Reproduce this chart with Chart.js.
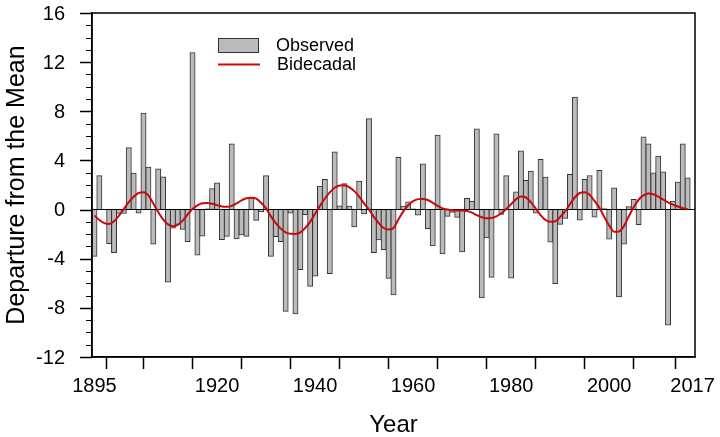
<!DOCTYPE html>
<html>
<head>
<meta charset="utf-8">
<script src="https://cdn.jsdelivr.net/npm/chart.js@4.4.0/dist/chart.umd.min.js"></script>
<style>
  html, body { margin: 0; padding: 0; background: #ffffff; }
  #wrap { width: 720px; height: 437px; }
</style>
</head>
<body>
<div id="wrap"><canvas id="chart" width="720" height="437"></canvas></div>
<script>
// Años (eje x)
const years = [
  1895, 1896, 1897, 1898, 1899, 1900, 1901, 1902, 1903, 1904,
  1905, 1906, 1907, 1908, 1909, 1910, 1911, 1912, 1913, 1914,
  1915, 1916, 1917, 1918, 1919, 1920, 1921, 1922, 1923, 1924,
  1925, 1926, 1927, 1928, 1929, 1930, 1931, 1932, 1933, 1934,
  1935, 1936, 1937, 1938, 1939, 1940, 1941, 1942, 1943, 1944,
  1945, 1946, 1947, 1948, 1949, 1950, 1951, 1952, 1953, 1954,
  1955, 1956, 1957, 1958, 1959, 1960, 1961, 1962, 1963, 1964,
  1965, 1966, 1967, 1968, 1969, 1970, 1971, 1972, 1973, 1974,
  1975, 1976, 1977, 1978, 1979, 1980, 1981, 1982, 1983, 1984,
  1985, 1986, 1987, 1988, 1989, 1990, 1991, 1992, 1993, 1994,
  1995, 1996, 1997, 1998, 1999, 2000, 2001, 2002, 2003, 2004,
  2005, 2006, 2007, 2008, 2009, 2010, 2011, 2012, 2013, 2014,
  2015, 2016
];

// Serie observada (barras)
const observed = [
  -3.8, 2.76, 0.0, -2.76, -3.5, -0.3, -0.3, 5.04, 2.95, -0.27,
  7.83, 3.44, -2.8, 3.3, 2.66, -5.9, -1.5, -1.2, -1.6, -2.6,
  12.76, -3.7, -2.15, 0.05, 1.7, 2.17, -2.44, -2.17, 5.34, -2.38,
  -2.05, -2.17, 0.95, -0.87, -0.15, 2.76, -3.8, -2.2, -2.6, -8.27,
  -0.27, -8.48, -4.88, -0.4, -6.25, -5.4, 1.9, 2.44, -5.2, 4.68,
  0.3, 2.1, 0.27, -1.4, 2.3, -0.35, 7.4, -3.5, -2.45, -3.25,
  -5.6, -6.93, 4.23, 0.27, 0.62, 0.05, -0.45, 3.7, -1.55, -2.95,
  6.05, -3.6, -0.54, -0.22, -0.62, -3.44, 0.9, 0.66, 6.56, -7.18,
  -2.3, -5.5, 6.15, -0.39, 2.76, -5.56, 1.44, 4.77, 2.37, 3.12,
  -0.27, 4.07, 2.63, -2.63, -6.02, -1.2, -0.7, 2.85, 9.15, -0.84,
  2.44, 2.76, -0.6, 3.18, 0.07, -2.39, 1.75, -7.1, -2.8, 0.22,
  0.81, -1.22, 5.9, 5.34, 2.98, 4.34, 3.05, -9.4, 0.68, 2.23,
  5.34, 2.57
];

// Curva bidecadal (línea roja)
const bidecadal = [
  -0.49, -0.85, -1.1, -1.17, -0.95, -0.5, 0.05, 0.6, 1.05, 1.35,
  1.41, 1.15, 0.5, -0.2, -0.8, -1.2, -1.35, -1.25, -0.9, -0.4,
  0.05, 0.35, 0.52, 0.54, 0.48, 0.36, 0.25, 0.22, 0.3, 0.5,
  0.75, 0.92, 0.97, 0.9, 0.55, 0.1, -0.55, -1.1, -1.55, -1.85,
  -1.97, -1.98, -1.85, -1.5, -1.0, -0.35, 0.3, 0.9, 1.4, 1.78,
  1.96, 1.98, 1.8, 1.5, 1.05, 0.5, 0.0, -0.6, -1.1, -1.5,
  -1.63, -1.5, -0.8, -0.15, 0.35, 0.68, 0.85, 0.87, 0.78, 0.55,
  0.3, 0.1, 0.0, -0.05, -0.08, -0.08, -0.12, -0.25, -0.45, -0.62,
  -0.7, -0.68, -0.55, -0.3, 0.05, 0.45, 0.85, 1.07, 1.0, 0.6,
  0.1, -0.45, -0.85, -1.0, -0.95, -0.6, -0.15, 0.45, 1.0, 1.35,
  1.41, 1.2, 0.7, 0.15, -0.6, -1.3, -1.8, -1.78, -1.35, -0.55,
  0.2, 0.8, 1.15, 1.3, 1.25, 1.05, 0.82, 0.58, 0.4, 0.25,
  0.12, 0.05
];

// Marcas del eje x y cuáles llevan etiqueta
const xTickYears = [1895, 1900, 1910, 1920, 1930, 1940, 1950, 1960, 1970, 1980, 1990, 2000, 2010, 2017];
const xLabelYears = [1895, 1920, 1940, 1960, 1980, 2000, 2017];
const yMajorTicks = [-12, -8, -4, 0, 4, 8, 12, 16];
const yMinorTicks = [-11, -10, -9, -7, -6, -5, -3, -2, -1, 1, 2, 3, 5, 6, 7, 9, 10, 11, 13, 14, 15];

const FONT = '"Liberation Sans", Arial, Helvetica, sans-serif';

// Marco, marcas del eje y y sus etiquetas
const framePlugin = {
  id: 'frame',
  afterDraw(chart) {
    const { ctx, chartArea } = chart;
    const yScale = chart.scales.y;
    ctx.save();
    ctx.strokeStyle = '#000';
    ctx.lineWidth = 1.5;
    ctx.strokeRect(chartArea.left, chartArea.top, chartArea.right - chartArea.left, chartArea.bottom - chartArea.top);

    // marcas menores
    ctx.beginPath();
    yMinorTicks.forEach(v => {
      const py = Math.round(yScale.getPixelForValue(v)) + 0.5;
      ctx.moveTo(chartArea.left - 6, py);
      ctx.lineTo(chartArea.left, py);
    });
    ctx.lineWidth = 1.2;
    ctx.stroke();

    // marcas mayores
    ctx.beginPath();
    yMajorTicks.forEach(v => {
      const py = Math.round(yScale.getPixelForValue(v)) + 0.5;
      ctx.moveTo(chartArea.left - 12, py);
      ctx.lineTo(chartArea.left, py);
    });
    ctx.lineWidth = 1.5;
    ctx.stroke();

    // etiquetas
    ctx.fillStyle = '#000';
    ctx.font = '20px ' + FONT;
    ctx.textAlign = 'right';
    ctx.textBaseline = 'middle';
    yMajorTicks.forEach(v => {
      ctx.fillText(String(v), chartArea.left - 27, yScale.getPixelForValue(v) + 1);
    });
    ctx.restore();
  }
};

// Leyenda dentro del área del gráfico
const legendPlugin = {
  id: 'boxLegend',
  afterDraw(chart) {
    const ctx = chart.ctx;
    const ds = chart.data.datasets;
    ctx.save();
    ctx.fillStyle = ds[0].backgroundColor;
    ctx.fillRect(218, 38, 41, 14);
    ctx.strokeStyle = ds[0].borderColor;
    ctx.lineWidth = 1;
    ctx.strokeRect(218.5, 38.5, 40, 14);
    ctx.strokeStyle = ds[1].borderColor;
    ctx.lineWidth = 2;
    ctx.beginPath();
    ctx.moveTo(218, 64.5);
    ctx.lineTo(260, 64.5);
    ctx.stroke();
    ctx.fillStyle = '#000';
    ctx.font = '18px ' + FONT;
    ctx.textBaseline = 'middle';
    ctx.fillText(ds[0].label, 276, 46);
    ctx.fillText(ds[1].label, 277, 65);
    ctx.restore();
  }
};

document.addEventListener('DOMContentLoaded', function () {
  const ctx = document.getElementById('chart').getContext('2d');

  new Chart(ctx, {
    type: 'bar',
    data: {
      datasets: [{
        type: 'bar',
        label: 'Observed',
        data: years.map((y, i) => ({ x: y, y: observed[i] })),
        backgroundColor: '#bbbbbb',
        borderColor: '#333333',
        borderWidth: 1,
        barPercentage: 1,
        categoryPercentage: 1,
        inflateAmount: 0.5,
        order: 1
      }, {
        type: 'line',
        label: 'Bidecadal',
        data: years.map((y, i) => ({ x: y, y: bidecadal[i] })),
        borderColor: '#c80a0a',
        borderWidth: 2,
        pointRadius: 0,
        cubicInterpolationMode: 'monotone',
        fill: false,
        order: 0
      }]
    },
    options: {
      responsive: false,
      animation: false,
      layout: { padding: { top: 13, right: 25, left: 0, bottom: 0 } },
      plugins: {
        legend: { display: false },
        tooltip: { enabled: false }
      },
      scales: {
        x: {
          type: 'linear',
          min: 1894.5,
          max: 2017.5,
          offset: false,
          afterFit(scale) { scale.height = 80; },
          afterBuildTicks(scale) {
            scale.ticks = xTickYears.map(v => ({ value: v }));
          },
          ticks: {
            autoSkip: false,
            maxRotation: 0,
            padding: 5,
            color: '#000',
            font: { family: FONT, size: 20 },
            callback: v => xLabelYears.includes(v) ? String(v) : ''
          },
          grid: {
            drawOnChartArea: false,
            tickLength: 12,
            tickColor: '#000',
            tickWidth: 1.5
          },
          border: { display: true, color: '#000', width: 1.5 },
          title: {
            display: true,
            text: 'Year',
            color: '#000',
            font: { family: FONT, size: 24, lineHeight: 1.0 },
            padding: { top: 0, bottom: 0 }
          }
        },
        y: {
          min: -12,
          max: 16,
          afterFit(scale) { scale.width = 92; },
          afterBuildTicks(scale) {
            scale.ticks = yMajorTicks.map(v => ({ value: v }));
          },
          ticks: { display: false },
          grid: {
            drawOnChartArea: true,
            drawTicks: false,
            color: c => (c.tick && c.tick.value === 0) ? '#000' : 'rgba(0,0,0,0)',
            lineWidth: 1
          },
          border: { display: true, color: '#000', width: 1.5 },
          title: {
            display: true,
            text: 'Departure from the Mean',
            color: '#000',
            font: { family: FONT, size: 25 },
            padding: { top: 2, bottom: 0 }
          }
        }
      }
    },
    plugins: [framePlugin, legendPlugin]
  });
});
</script>
</body>
</html>
